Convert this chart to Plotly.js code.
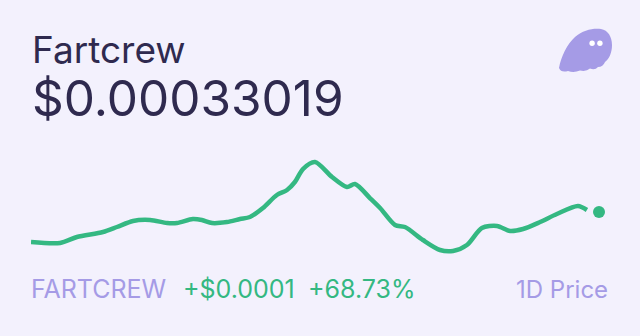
<!DOCTYPE html>
<html>
<head>
<meta charset="utf-8">
<script src="https://cdn.plot.ly/plotly-3.0.1.min.js"></script>
<style>
  html, body { margin: 0; padding: 0; background: #f3f1fd; }
  #chart { width: 640px; height: 336px; }
</style>
</head>
<body>
<div id="chart"></div>
<script>
// ---- data ----
const tokenName = "Fartcrew";
const tokenSymbol = "FARTCREW";
const currentPrice = "$0.00033019";
const priceChange = "+$0.0001";
const pctChange = "+68.73%";
const periodLabel = "1D Price";

const hours = [0, 1.23, 1.94, 3.04, 3.63, 4.31, 5.03, 5.75, 6.17, 6.84, 7.22, 7.65, 8.28, 8.83, 9.25,
  9.80, 10.39, 10.82, 11.15, 11.49, 12.0, 12.72, 13.35, 13.69, 14.32, 14.75, 15.38, 15.80, 16.56,
  17.28, 17.83, 18.42, 19.05, 19.69, 20.24, 20.79, 21.51, 22.22, 23.11, 23.49];
const prices = [0.0001958, 0.0001913, 0.0002182, 0.0002406, 0.0002630, 0.0002899, 0.0002943, 0.0002809,
  0.0002809, 0.0002988, 0.0002943, 0.0002809, 0.0002854, 0.0002988, 0.0003078, 0.0003481, 0.0004063,
  0.0004288, 0.0004646, 0.0005228, 0.0005542, 0.0004870, 0.0004422, 0.0004556, 0.0003929, 0.0003481,
  0.0002720, 0.0002630, 0.0002048, 0.0001600, 0.0001555, 0.0001824, 0.0002585, 0.0002675, 0.0002451,
  0.0002540, 0.0002854, 0.0003212, 0.0003571, 0.0003392];
const lastHour = [24];
const lastPrice = [0.00033019];

// ---- layout helpers ----
const W = 640, H = 336;
const M = { l: 31, r: 41, t: 150, b: 76 };
const PW = W - M.l - M.r, PH = H - M.t - M.b;
const px = x => (x - M.l) / PW;
const py = y => (H - M.b - y) / PH;

const GREEN = "#34b882";
const LAV = "#a59be6";
const NAVY = "#2f2a4f";
const BG = "#f3f1fd";
const FONT = "Inter, 'Open Sans', sans-serif";

function pathPx(cmds) {
  return cmds.map(c => {
    const l = c[0];
    const pts = [];
    for (let i = 1; i < c.length; i += 2) pts.push(px(c[i]).toFixed(5) + "," + py(c[i + 1]).toFixed(5));
    return l + " " + pts.join(" ");
  }).join(" ") + " Z";
}

const ghost = pathPx([
  ["M", 559, 68],
  ["C", 561, 57, 567, 44, 575, 37],
  ["C", 583, 30, 593, 28, 601, 29],
  ["C", 608, 30, 612, 37, 612, 45],
  ["C", 612, 53, 609, 59, 605, 62],
  ["Q", 603, 67, 598, 67],
  ["Q", 595, 70.5, 590, 68.5],
  ["Q", 586, 72, 580, 70.5],
  ["Q", 574, 73, 568, 71],
  ["Q", 561, 73, 559, 68]
]);

const traces = [
  {
    x: hours, y: prices, type: "scatter", mode: "lines",
    line: { color: GREEN, width: 4.5, shape: "spline", smoothing: 0.8 },
    cliponaxis: false, hoverinfo: "skip"
  },
  {
    x: lastHour, y: lastPrice, type: "scatter", mode: "markers",
    marker: { color: GREEN, size: 12 },
    cliponaxis: false, hoverinfo: "skip"
  }
];

const layout = {
  width: W, height: H,
  margin: M,
  paper_bgcolor: BG, plot_bgcolor: BG,
  showlegend: false,
  xaxis: { range: [0, 24], visible: false, fixedrange: true },
  yaxis: { range: [0.0001152, 0.0006080], visible: false, fixedrange: true },
  font: { family: FONT },
  shapes: [
    { type: "path", xref: "paper", yref: "paper", path: ghost, fillcolor: LAV, line: { width: 0 } },
    { type: "circle", xref: "paper", yref: "paper", x0: px(589.4), x1: px(594.8), y0: py(40.5), y1: py(45.9), fillcolor: "#ffffff", line: { width: 0 } },
    { type: "circle", xref: "paper", yref: "paper", x0: px(597.2), x1: px(602.6), y0: py(40.5), y1: py(45.9), fillcolor: "#ffffff", line: { width: 0 } }
  ],
  annotations: [
    { text: tokenName, xref: "paper", yref: "paper", x: px(30), y: py(49), xanchor: "left", yanchor: "middle",
      showarrow: false, font: { family: FONT, size: 37, color: NAVY } },
    { text: currentPrice, xref: "paper", yref: "paper", x: px(30), y: py(98), xanchor: "left", yanchor: "middle",
      showarrow: false, font: { family: FONT, size: 49.5, color: NAVY } },
    { text: tokenSymbol, xref: "paper", yref: "paper", x: px(29), y: py(289), xanchor: "left", yanchor: "middle",
      showarrow: false, font: { family: FONT, size: 25, color: LAV } },
    { text: priceChange, xref: "paper", yref: "paper", x: px(181), y: py(289), xanchor: "left", yanchor: "middle",
      showarrow: false, font: { family: FONT, size: 25, color: GREEN } },
    { text: pctChange, xref: "paper", yref: "paper", x: px(306), y: py(289), xanchor: "left", yanchor: "middle",
      showarrow: false, font: { family: FONT, size: 25, color: GREEN } },
    { text: periodLabel, xref: "paper", yref: "paper", x: px(610), y: py(289), xanchor: "right", yanchor: "middle",
      showarrow: false, font: { family: FONT, size: 24, color: LAV } }
  ]
};

Plotly.newPlot("chart", traces, layout, { displayModeBar: false, staticPlot: true });
</script>
</body>
</html>
